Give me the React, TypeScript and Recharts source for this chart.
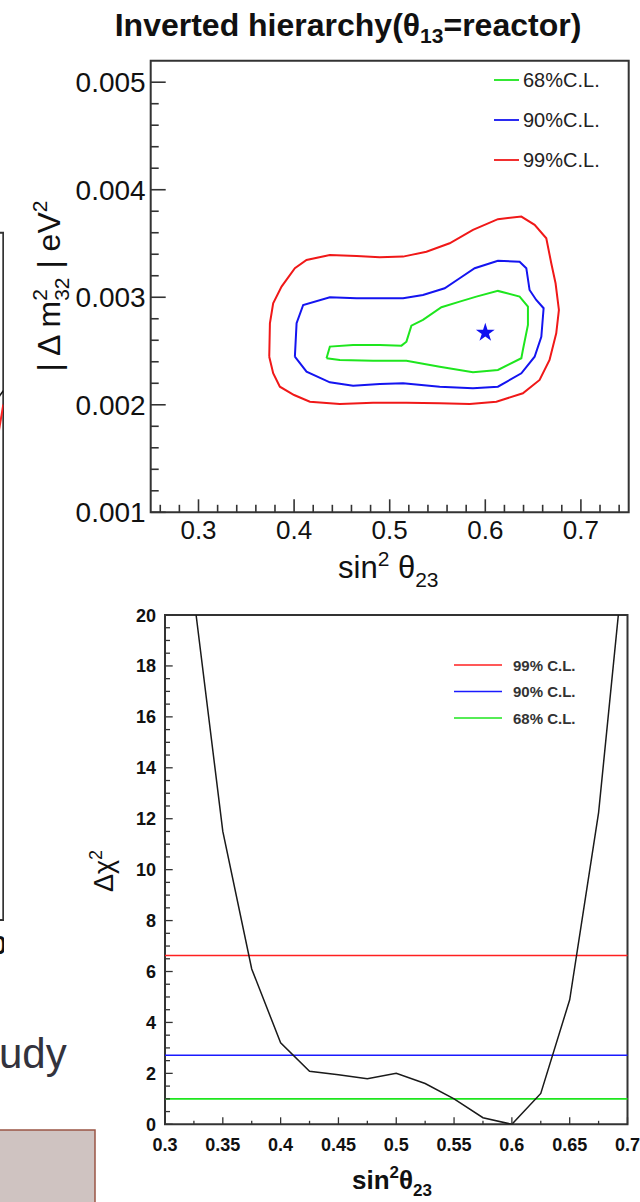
import React from "react";
import {
  ComposedChart,
  Line,
  Scatter,
  XAxis,
  YAxis,
  ReferenceArea,
  ReferenceLine,
  Legend,
  Symbols,
} from "recharts";

const FONT = "'Liberation Sans', Arial, Helvetica, sans-serif";

// ---------- top panel: contours in (sin^2 theta23, |dm^2_32|) ----------
const contour99: [number, number][] = [
  [0.374, 0.002447], [0.3747, 0.002758], [0.3781, 0.002944], [0.3869, 0.003099],
  [0.4008, 0.00327], [0.413, 0.003347], [0.4374, 0.003393], [0.4653, 0.003384],
  [0.4896, 0.003372], [0.514, 0.003378], [0.5384, 0.003424], [0.5627, 0.003502],
  [0.5871, 0.003626], [0.6132, 0.003726], [0.6377, 0.00375], [0.6516, 0.003673],
  [0.6638, 0.003549], [0.669, 0.003316], [0.6735, 0.00313], [0.677, 0.002882],
  [0.6742, 0.002665], [0.6672, 0.002417], [0.6568, 0.002231], [0.6393, 0.002107],
  [0.6116, 0.002029], [0.5837, 0.002007], [0.5523, 0.002014], [0.5175, 0.00202],
  [0.4826, 0.00202], [0.4478, 0.002007], [0.4165, 0.002029], [0.4, 0.002091],
  [0.3851, 0.002168], [0.3781, 0.002293], [0.374, 0.002447],
];
const contour90: [number, number][] = [
  [0.4008, 0.002447], [0.4026, 0.002758], [0.4095, 0.002928], [0.4374, 0.003],
  [0.4653, 0.002991], [0.514, 0.002991], [0.5348, 0.003021], [0.5575, 0.003084],
  [0.5732, 0.003177], [0.5889, 0.00327], [0.6132, 0.00334], [0.6359, 0.003331],
  [0.6429, 0.00327], [0.6463, 0.003068], [0.6533, 0.002975], [0.661, 0.002898],
  [0.6586, 0.002633], [0.6516, 0.002447], [0.6377, 0.002293], [0.6132, 0.002168],
  [0.5871, 0.002153], [0.5523, 0.002168], [0.514, 0.0022], [0.4896, 0.002193],
  [0.4617, 0.002178], [0.4374, 0.002209], [0.413, 0.002308], [0.4008, 0.002447],
];
const contour68: [number, number][] = [
  [0.4339, 0.002433], [0.4374, 0.002541], [0.4617, 0.002556], [0.4896, 0.002556],
  [0.5123, 0.00255], [0.5175, 0.002587], [0.5227, 0.002736], [0.5348, 0.002789],
  [0.5541, 0.002907], [0.5732, 0.002959], [0.5906, 0.003006], [0.6132, 0.003059],
  [0.6359, 0.003006], [0.6446, 0.002913], [0.6446, 0.002742], [0.6393, 0.00251],
  [0.6377, 0.002433], [0.6132, 0.002324], [0.5871, 0.002302], [0.5523, 0.002354],
  [0.5175, 0.00241], [0.4826, 0.00241], [0.4478, 0.002417], [0.4339, 0.002433],
];
const bestFit: [number, number][] = [[0.6, 0.00267]];

const topXTicks = [
  0.26, 0.28, 0.3, 0.32, 0.34, 0.36, 0.38, 0.4, 0.42, 0.44, 0.46, 0.48, 0.5,
  0.52, 0.54, 0.56, 0.58, 0.6, 0.62, 0.64, 0.66, 0.68, 0.7, 0.72, 0.74,
];
const topXMajor = [0.3, 0.4, 0.5, 0.6, 0.7];
const topXLabels = ["0.3", "0.4", "0.5", "0.6", "0.7"];
const topYTicks = [
  0.001, 0.0012, 0.0014, 0.0016, 0.0018, 0.002, 0.0022, 0.0024, 0.0026, 0.0028,
  0.003, 0.0032, 0.0034, 0.0036, 0.0038, 0.004, 0.0042, 0.0044, 0.0046, 0.0048,
  0.005,
];
const topYMajor = [0.001, 0.002, 0.003, 0.004, 0.005];
const topYLabels = ["0.001", "0.002", "0.003", "0.004", "0.005"];
const topLegendLabels = ["68%C.L.", "90%C.L.", "99%C.L."];
const topLegendColors = ["#1ee61e", "#1414f0", "#f01818"];

// ---------- bottom panel: delta chi^2 vs sin^2 theta23 ----------
const sinSq = [0.325, 0.35, 0.375, 0.4, 0.425, 0.45, 0.475, 0.5, 0.525, 0.55, 0.575, 0.6, 0.625, 0.65, 0.675, 0.7];
const dchi2 = [20.7, 11.5, 6.1, 3.2, 2.08, 1.95, 1.79, 2.0, 1.6, 1.0, 0.26, 0.0, 1.21, 4.89, 12.24, 23.6];
const clLevels = [6.63, 2.71, 1.0];
const clColors = ["#ff2020", "#1a1aff", "#1ee61e"];
const botLegendLabels = ["99% C.L.", "90% C.L.", "68% C.L."];

const botXTicks = [0.3, 0.325, 0.35, 0.375, 0.4, 0.425, 0.45, 0.475, 0.5, 0.525, 0.55, 0.575, 0.6, 0.625, 0.65, 0.675, 0.7];
const botXMajor = [0.3, 0.35, 0.4, 0.45, 0.5, 0.55, 0.6, 0.65, 0.7];
const botXLabels = ["0.3", "0.35", "0.4", "0.45", "0.5", "0.55", "0.6", "0.65", "0.7"];
const botYTicks = [
  0, 0.5, 1, 1.5, 2, 2.5, 3, 3.5, 4, 4.5, 5, 5.5, 6, 6.5, 7, 7.5, 8, 8.5, 9, 9.5, 10,
  10.5, 11, 11.5, 12, 12.5, 13, 13.5, 14, 14.5, 15, 15.5, 16, 16.5, 17, 17.5, 18,
  18.5, 19, 19.5, 20,
];
const botYMajor = [0, 2, 4, 6, 8, 10, 12, 14, 16, 18, 20];
const botYLabels = ["0", "2", "4", "6", "8", "10", "12", "14", "16", "18", "20"];

// ---------- left (cut-off) panel ----------
const leftRed: [number, number][] = [[0.68, 11.5], [0.7, 15.0]];
const leftBlack: [number, number][] = [[0.68, 14.6], [0.7, 15.4]];
const leftXTicks = [0.7];
const leftXLabels = ["0"];

const toPts = (a: [number, number][]) => a.map(([x, y]) => ({ x, y }));
const idxOf = (v: number, arr: number[]) => arr.findIndex((m) => Math.abs(m - v) < 1e-9);

const TopXTick = (p: any) => {
  const { x, y, payload } = p;
  const i = idxOf(payload.value, topXMajor);
  const major = i >= 0;
  return (
    <g>
      <line x1={x} x2={x} y1={y} y2={y - (major ? 13 : 7.5)} stroke="#333" strokeWidth={1.6} />
      {major && (
        <text x={x} y={y + 27} textAnchor="middle" fontSize={26} fill="#111" fontFamily={FONT}>
          {topXLabels[i]}
        </text>
      )}
    </g>
  );
};
const TopYTick = (p: any) => {
  const { x, y, payload } = p;
  const i = idxOf(payload.value, topYMajor);
  const major = i >= 0;
  return (
    <g>
      <line x1={x} x2={x + (major ? 15 : 8)} y1={y} y2={y} stroke="#333" strokeWidth={1.6} />
      {major && (
        <text x={x - 5} y={y + 10} textAnchor="end" fontSize={28} fill="#111" fontFamily={FONT}>
          {topYLabels[i]}
        </text>
      )}
    </g>
  );
};
const BotXTick = (p: any) => {
  const { x, y, payload } = p;
  const i = idxOf(payload.value, botXMajor);
  const major = i >= 0;
  return (
    <g>
      <line x1={x} x2={x} y1={y} y2={y - (major ? 7 : 3.5)} stroke="#333" strokeWidth={1.3} />
      {major && (
        <text x={x} y={y + 27} textAnchor="middle" fontSize={18} fontWeight="bold" fill="#111" fontFamily={FONT}>
          {botXLabels[i]}
        </text>
      )}
    </g>
  );
};
const BotYTick = (p: any) => {
  const { x, y, payload } = p;
  const i = idxOf(payload.value, botYMajor);
  const major = i >= 0;
  return (
    <g>
      <line x1={x} x2={x + (major ? 7.7 : 5)} y1={y} y2={y} stroke="#333" strokeWidth={1.3} />
      {major && (
        <text x={x - 9} y={y + 6.5} textAnchor="end" fontSize={18} fontWeight="bold" fill="#111" fontFamily={FONT}>
          {botYLabels[i]}
        </text>
      )}
    </g>
  );
};
const LeftXTick = (p: any) => {
  const { x, y, payload } = p;
  const i = idxOf(payload.value, leftXTicks);
  return (
    <text x={x + 3.4} y={y + 34} textAnchor="end" fontSize={26} fontWeight="bold" fill="#111" fontFamily={FONT}>
      {leftXLabels[i]}
    </text>
  );
};

const StarShape = (p: any) => <Symbols cx={p.cx} cy={p.cy} type="star" size={110} fill="#1010f0" />;

const TopLegend = () => (
  <svg width={140} height={120}>
    {topLegendLabels.map((t, i) => (
      <g key={t}>
        <line x1={4} x2={29} y1={20 + 40 * i} y2={20 + 40 * i} stroke={topLegendColors[i]} strokeWidth={1.8} />
        <text x={33} y={27 + 40 * i} fontSize={20} fill="#222" fontFamily={FONT}>
          {t}
        </text>
      </g>
    ))}
  </svg>
);
const BotLegend = () => (
  <svg width={150} height={80}>
    {botLegendLabels.map((t, i) => (
      <g key={t}>
        <line x1={4} x2={52} y1={15 + 26.5 * i} y2={15 + 26.5 * i} stroke={clColors[i]} strokeWidth={1.6} />
        <text x={63} y={20.5 + 26.5 * i} fontSize={15} fontWeight="bold" fill="#333" fontFamily={FONT}>
          {t}
        </text>
      </g>
    ))}
  </svg>
);

export default function App() {
  const chi2Data = sinSq.map((x, i) => ({ x, y: dchi2[i] }));
  return (
    <div style={{ position: "absolute", left: 0, top: 0, width: 640, height: 1202, overflow: "hidden", background: "#fff", fontFamily: FONT }}>
      {/* left cut-off panel */}
      <div style={{ position: "absolute", left: -400, top: 200 }}>
        <ComposedChart width={404} height={760} margin={{ top: 32.7, right: 0.7, bottom: 0, left: 0 }}>
          <XAxis type="number" dataKey="x" domain={[0.3, 0.7]} ticks={leftXTicks} interval={0} height={40}
            tickSize={0} tickMargin={0} axisLine={false} tickLine={false} tick={<LeftXTick />} allowDataOverflow />
          <YAxis type="number" domain={[0, 20]} width={0} hide allowDataOverflow />
          <ReferenceArea x1={0.3} x2={0.7} y1={0} y2={20} fill="none" stroke="#333" strokeWidth={2} />
          <Line data={toPts(leftBlack)} dataKey="y" stroke="#111" strokeWidth={1.5} dot={false} isAnimationActive={false} />
          <Line data={toPts(leftRed)} dataKey="y" stroke="#ff2020" strokeWidth={2} dot={false} isAnimationActive={false} />
        </ComposedChart>
      </div>

      {/* top panel */}
      <div style={{ position: "absolute", left: 0, top: 0 }}>
        <ComposedChart width={640} height={600} margin={{ top: 60.7, right: 11.3, bottom: 57.7, left: 90.7 }}>
          <XAxis type="number" dataKey="x" domain={[0.25, 0.75]} ticks={topXTicks} interval={0} height={30}
            tickSize={0} tickMargin={0} axisLine={false} tickLine={false} tick={<TopXTick />} allowDataOverflow />
          <YAxis type="number" domain={[0.001, 0.0052]} ticks={topYTicks} interval={0} width={60}
            tickSize={0} tickMargin={0} axisLine={false} tickLine={false} tick={<TopYTick />} allowDataOverflow />
          <ReferenceArea x1={0.25} x2={0.75} y1={0.001} y2={0.0052} fill="none" stroke="#333" strokeWidth={2} />
          <Line data={toPts(contour99)} dataKey="y" stroke={topLegendColors[2]} strokeWidth={2} dot={false} isAnimationActive={false} />
          <Line data={toPts(contour90)} dataKey="y" stroke={topLegendColors[1]} strokeWidth={2} dot={false} isAnimationActive={false} />
          <Line data={toPts(contour68)} dataKey="y" stroke={topLegendColors[0]} strokeWidth={2} dot={false} isAnimationActive={false} />
          <Scatter data={toPts(bestFit)} dataKey="y" shape={<StarShape />} isAnimationActive={false} />
          <Legend layout="horizontal" verticalAlign="middle" align="center" content={<TopLegend />}
            wrapperStyle={{ position: "absolute", left: 490, top: 60, width: 140, height: 120 }} />
        </ComposedChart>
      </div>

      {/* bottom panel */}
      <div style={{ position: "absolute", left: 0, top: 590 }}>
        <ComposedChart width={640} height={612} data={chi2Data} margin={{ top: 25, right: 12.5, bottom: 47.7, left: 105 }}>
          <XAxis type="number" dataKey="x" domain={[0.3, 0.7]} ticks={botXTicks} interval={0} height={30}
            tickSize={0} tickMargin={0} axisLine={false} tickLine={false} tick={<BotXTick />} allowDataOverflow />
          <YAxis type="number" domain={[0, 20]} ticks={botYTicks} interval={0} width={60}
            tickSize={0} tickMargin={0} axisLine={false} tickLine={false} tick={<BotYTick />} allowDataOverflow />
          {clLevels.map((v, i) => (
            <ReferenceLine key={v} y={v} stroke={clColors[i]} strokeWidth={1.6} />
          ))}
          <Line dataKey="y" stroke="#1a1a1a" strokeWidth={1.5} dot={false} isAnimationActive={false} />
          <ReferenceArea x1={0.3} x2={0.7} y1={0} y2={20} fill="none" stroke="#333" strokeWidth={2} />
          <Legend layout="horizontal" verticalAlign="middle" align="center" content={<BotLegend />}
            wrapperStyle={{ position: "absolute", left: 450, top: 60, width: 150, height: 80 }} />
        </ComposedChart>
      </div>

      {/* free text */}
      <svg style={{ position: "absolute", left: 0, top: 0, pointerEvents: "none" }} width={640} height={1202} fontFamily={FONT}>
        <text x={348} y={36} textAnchor="middle" fontSize={32} fontWeight="bold" fill="#111">
          Inverted hierarchy(θ<tspan dy={7} fontSize={21}>13</tspan>
          <tspan dy={-7}>=reactor)</tspan>
        </text>
        <text x={338} y={578} fontSize={31} fill="#111">
          sin<tspan dy={-12} fontSize={21}>2</tspan>
          <tspan dy={12}> θ</tspan>
          <tspan dy={9} fontSize={21}>23</tspan>
        </text>
        <text transform="translate(60,286) rotate(-90)" textAnchor="middle" fontSize={32} fill="#111">
          | Δ m<tspan dy={-13} fontSize={21}>2</tspan>
          <tspan dx={-11.7} dy={22} fontSize={21}>32</tspan>
          <tspan dy={-9}> | eV</tspan>
          <tspan dy={-13} fontSize={21}>2</tspan>
        </text>
        <text transform="translate(113,871) rotate(-90)" textAnchor="middle" fontSize={27} fill="#111">
          Δχ<tspan dy={-11} fontSize={18}>2</tspan>
        </text>
        <text x={352} y={1189} fontSize={26} fontWeight="bold" fill="#111">
          sin<tspan dy={-11} fontSize={17}>2</tspan>
          <tspan dy={11}>θ</tspan>
          <tspan dy={7} fontSize={17}>23</tspan>
        </text>
        <text x={-1} y={1068} fontSize={42} fill="#33333d">
          udy
        </text>
        <rect x={-2} y={1130} width={97} height={80} fill="#cfc3c1" stroke="#9a5545" strokeWidth={1.5} />
      </svg>
    </div>
  );
}
